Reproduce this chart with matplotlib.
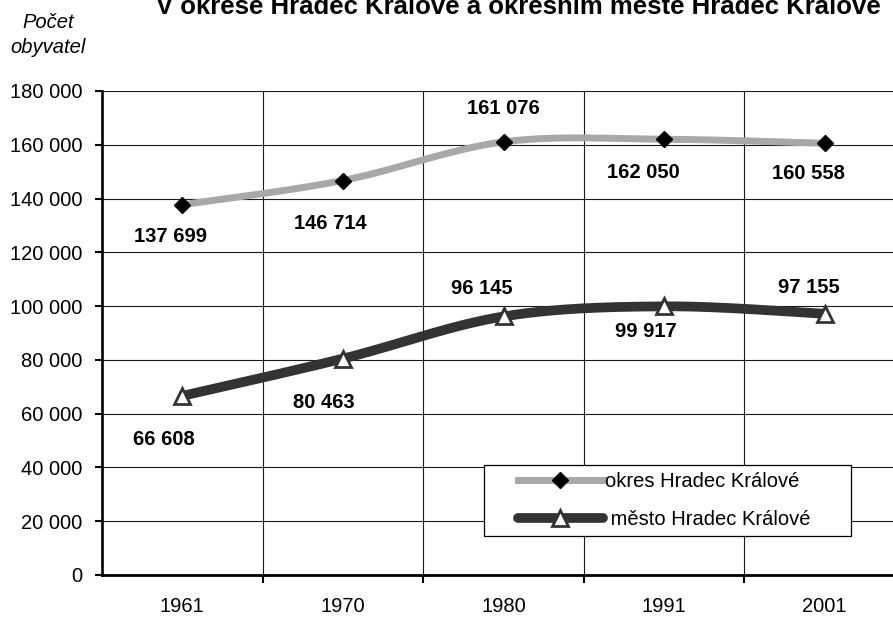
import numpy as np
import matplotlib
matplotlib.use("Agg")
import matplotlib.pyplot as plt
from matplotlib.lines import Line2D
from matplotlib.legend_handler import HandlerLine2D

plt.rcParams["font.family"] = ["Liberation Sans", "DejaVu Sans"]

# data
years = ["1961", "1970", "1980", "1991", "2001"]
okres = [137699, 146714, 161076, 162050, 160558]
mesto = [66608, 80463, 96145, 99917, 97155]
yticks = list(range(0, 180001, 20000))

title = "V okrese Hradec Králové a okresním městě Hradec Králové"
label_okres = "okres Hradec Králové"
label_mesto = "město Hradec Králové"

# label offsets in points (manual placement as in the original)
off_okres = [(-8.6, -23), (-9.4, -31), (0, 23.8), (-15, -23.8), (-11.5, -21.6)]
off_mesto = [(-13, -31.7), (-13.7, -31.7), (-15.8, 20), (-13, -18), (-11.5, 18.7)]


def smooth(xs, ys, n=40):
    """Catmull-Rom krivka pres body (jako vyhlazena cara v Excelu)"""
    pts = np.column_stack([xs, ys]).astype(float)
    pts = np.vstack([pts[0], pts, pts[-1]])
    out = []
    t = np.linspace(0, 1, n)[:, None]
    for i in range(1, len(pts) - 2):
        p0, p1, p2, p3 = pts[i - 1], pts[i], pts[i + 1], pts[i + 2]
        seg = 0.5 * ((2 * p1) + (-p0 + p2) * t
                     + (2 * p0 - 5 * p1 + 4 * p2 - p3) * t ** 2
                     + (-p0 + 3 * p1 - 3 * p2 + p3) * t ** 3)
        out.append(seg if i == 1 else seg[1:])
    out = np.vstack(out)
    return out[:, 0], out[:, 1]


def fmt(v):
    return f"{v:,}".replace(",", " ")


class ShiftedHandler(HandlerLine2D):
    """kresli symbol legendy posunuty doprava (vetsi levy okraj jako v Excelu)"""

    def __init__(self, shift, **kw):
        super().__init__(**kw)
        self.shift = shift

    def create_artists(self, legend, orig_handle, xdescent, ydescent,
                       width, height, fontsize, trans):
        return super().create_artists(legend, orig_handle, xdescent - self.shift,
                                      ydescent, width - self.shift, height,
                                      fontsize, trans)


fig = plt.figure(figsize=(8.93, 6.17), dpi=100)
ax = fig.add_axes([102 / 893, 42 / 617, 803 / 893, 484 / 617])

x = np.arange(len(years))
ax.set_xlim(-0.5, len(years) - 0.5)
ax.set_ylim(0, 180000)

# mrizka
for yv in yticks[1:]:
    ax.axhline(yv, color="#1a1a1a", lw=0.8, zorder=1)
for xb in np.arange(0.5, len(years) - 0.5, 1):
    ax.axvline(xb, color="#1a1a1a", lw=0.8, zorder=1)

# okres
sx, sy = smooth(x, okres)
ax.plot(sx, sy, color="#a8a8a8", lw=5, solid_capstyle="butt", zorder=3)
ax.plot(x, okres, ls="none", marker="D", ms=8.5, color="black", zorder=5)

# mesto
sx, sy = smooth(x, mesto)
ax.plot(sx, sy, color="#333333", lw=7, solid_capstyle="butt", zorder=3)
ax.plot(x, mesto, ls="none", marker="^", ms=12, mfc="white", mec="#333333",
        mew=2, zorder=5)

for xi, v, off in zip(x, okres, off_okres):
    ax.annotate(fmt(v), (xi, v), xytext=off, textcoords="offset points",
                ha="center", va="center", fontsize=14.5, fontweight="bold", zorder=6)
for xi, v, off in zip(x, mesto, off_mesto):
    ax.annotate(fmt(v), (xi, v), xytext=off, textcoords="offset points",
                ha="center", va="center", fontsize=14.5, fontweight="bold", zorder=6)

# osy
for s in ["top", "right"]:
    ax.spines[s].set_visible(False)
ax.spines["left"].set_linewidth(1.9)
ax.spines["bottom"].set_linewidth(2.0)
ax.spines["left"].set_zorder(4)
ax.spines["bottom"].set_zorder(4)

ax.set_yticks(yticks)
ax.set_yticklabels([fmt(v) for v in yticks])
ax.tick_params(axis="y", direction="out", length=5, width=1.5, pad=9, labelsize=14.5)

ax.set_xticks(np.arange(0.5, len(years) - 0.5, 1))
ax.set_xticklabels([])
ax.tick_params(axis="x", which="major", direction="out", length=6, width=1.5)
ax.set_xticks(x, minor=True)
ax.set_xticklabels(years, minor=True)
ax.tick_params(axis="x", which="minor", length=0, pad=16, labelsize=14.5)

# legenda
h_okres = Line2D([], [], color="#a8a8a8", lw=5, marker="D", ms=8.5,
                 mfc="black", mec="black")
h_mesto = Line2D([], [], color="#333333", lw=7, marker="^", ms=12, mfc="white",
                 mec="#333333", mew=2, solid_capstyle="round")
leg = ax.legend([h_okres, h_mesto], [label_okres, " " + label_mesto + "      "],
                loc="lower left",
                bbox_to_anchor=(484 / 893, 81 / 617), bbox_transform=fig.transFigure,
                borderaxespad=0, fontsize=14.5, numpoints=1, handlelength=5.55,
                handletextpad=0.1, labelspacing=0.95, borderpad=0.35,
                fancybox=False, framealpha=1, edgecolor="black",
                handler_map={Line2D: ShiftedHandler(19.5)})
leg.get_frame().set_linewidth(0.9)
leg.set_zorder(10)

# texty
fig.text(518 / 893, 1 - 14 / 617, title, ha="center", va="baseline",
         fontsize=18.5, fontweight="bold")
fig.text(48.5 / 893, 1 - 28 / 617, "Počet", ha="center", va="baseline",
         fontsize=14.5, style="italic")
fig.text(48.5 / 893, 1 - 53 / 617, "obyvatel", ha="center", va="baseline",
         fontsize=14.5, style="italic")

fig.savefig("out.png", dpi=100)
